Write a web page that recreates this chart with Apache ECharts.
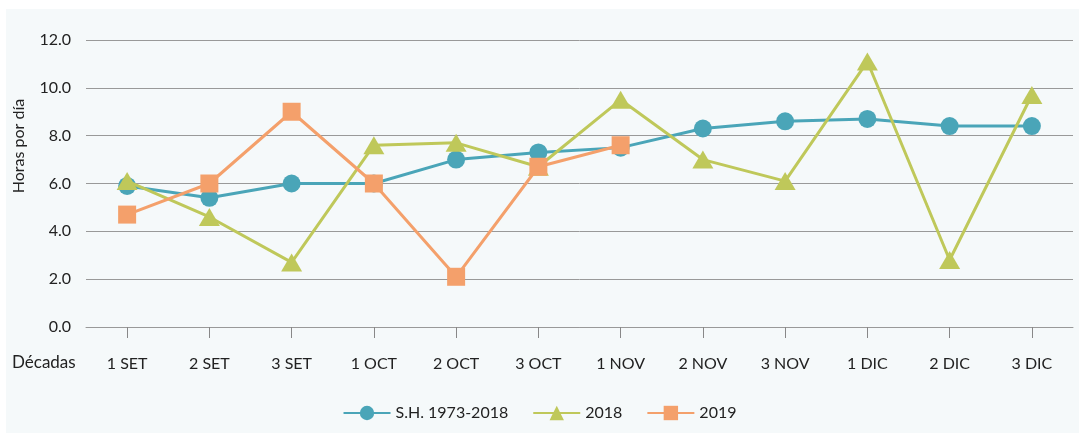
<!DOCTYPE html>
<html>
<head>
<meta charset="utf-8">
<script src="https://cdn.jsdelivr.net/npm/echarts@6/dist/echarts.min.js"></script>
<style>
html,body{margin:0;padding:0;background:#ffffff;}
#chart{width:1079px;height:433px;}
</style>
</head>
<body>
<div id="chart"></div>
<script>
const categories = ['1 SET','2 SET','3 SET','1 OCT','2 OCT','3 OCT','1 NOV','2 NOV','3 NOV','1 DIC','2 DIC','3 DIC'];
const seriesNames = ['S.H. 1973-2018','2018','2019'];
const shValues = [5.9, 5.4, 6.0, 6.0, 7.0, 7.3, 7.5, 8.3, 8.6, 8.7, 8.4, 8.4];
const y2018 = [6.1, 4.6, 2.7, 7.6, 7.7, 6.7, 9.5, 7.0, 6.1, 11.1, 2.8, 9.7];
const y2019 = [4.7, 6.0, 9.0, 6.0, 2.1, 6.7, 7.6, null, null, null, null, null];
const yTicks = [0, 2, 4, 6, 8, 10, 12];

const FONT = 'Lato, "Open Sans", sans-serif';
const chart = echarts.init(document.getElementById('chart'));
chart.setOption({
  animation: false,
  textStyle: {fontFamily: FONT},
  graphic: [
    {type:'rect', z:-10, silent:true, shape:{x:6, y:9, width:1073, height:424}, style:{fill:'#f5f9fa'}},
    {type:'text', left:12, top:354, style:{text:'Décadas', fontSize:17, fill:'#222', fontFamily:FONT}},
    {type:'text', x:19, y:146, rotation:Math.PI/2, style:{text:'Horas por día', fontSize:16, fill:'#222', fontFamily:FONT, align:'center', verticalAlign:'middle'}}
  ],
  grid: {left: 86, right: 6, top: 40, bottom: 106, containLabel: false},
  legend: {
    bottom: 7,
    left: 'center',
    itemWidth: 47,
    itemHeight: 18,
    itemGap: 24,
    textStyle: {fontSize: 16, color: '#222', fontFamily: FONT},
    data: seriesNames
  },
  xAxis: {
    type: 'category',
    data: categories,
    boundaryGap: true,
    axisLine: {show: true, lineStyle: {color: '#999', width: 1}},
    axisTick: {show: true, alignWithLabel: true, length: 11, lineStyle: {color: '#888'}},
    axisLabel: {color: '#222', fontSize: 16, margin: 29, interval: 0, fontFamily: FONT}
  },
  yAxis: {
    type: 'value',
    min: 0, max: 12, interval: 2,
    axisLine: {show: false},
    axisTick: {show: false},
    splitLine: {show: true, lineStyle: {color: '#999', width: 1}},
    axisLabel: {color: '#222', fontSize: 16, margin: 15, fontFamily: FONT,
      formatter: v => yTicks.indexOf(v) >= 0 ? v.toFixed(1) : ''}
  },
  series: [
    {
      name: seriesNames[0], type: 'line', data: shValues, z: 3,
      symbol: 'circle', symbolSize: 18,
      lineStyle: {color: '#4aa5b8', width: 3},
      itemStyle: {color: '#4aa5b8'}
    },
    {
      name: seriesNames[1], type: 'line', data: y2018, z: 4,
      symbol: 'triangle', symbolSize: [21, 18],
      lineStyle: {color: '#bfc85a', width: 3},
      itemStyle: {color: '#bfc85a'}
    },
    {
      name: seriesNames[2], type: 'line', data: y2019, z: 5,
      symbol: 'rect', symbolSize: 18,
      lineStyle: {color: '#f4a06b', width: 3},
      itemStyle: {color: '#f4a06b'}
    }
  ]
});
</script>
</body>
</html>
